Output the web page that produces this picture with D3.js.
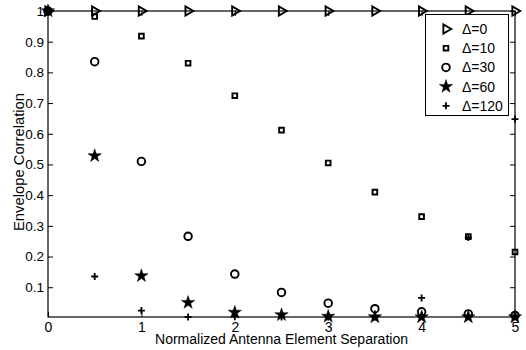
<!DOCTYPE html>
<html>
<head>
<meta charset="utf-8">
<script src="https://cdn.jsdelivr.net/npm/d3@7"></script>
<style>
  body { margin: 0; background: #fff; }
  text { font-family: "Liberation Sans", Arial, sans-serif; fill: #000; }
</style>
</head>
<body>
<div id="chart"></div>
<script>
// antenna separation (wavelengths)
const separation = [0, 0.5, 1, 1.5, 2, 2.5, 3, 3.5, 4, 4.5, 5];

const delta0   = [1, 1, 1, 1, 1, 1, 1, 1, 1, 1, 1];
const delta10  = [1, 0.982, 0.918, 0.830, 0.724, 0.612, 0.505, 0.410, 0.330, 0.265, 0.215];
const delta30  = [1, 0.835, 0.510, 0.266, 0.143, 0.083, 0.048, 0.030, 0.020, 0.013, 0.008];
const delta60  = [1, 0.528, 0.137, 0.050, 0.018, 0.010, 0.005, 0.003, 0.002, 0.001, 0.001];
const delta120 = [1, 0.135, 0.024, 0.002, 0.004, 0.003, 0.002, 0.002, 0.065, 0.262, 0.648];

const legendLabels = ["\u0394=0", "\u0394=10", "\u0394=30", "\u0394=60", "\u0394=120"];
const xTicks = [0, 1, 2, 3, 4, 5];
const yTicks = [0.1, 0.2, 0.3, 0.4, 0.5, 0.6, 0.7, 0.8, 0.9, 1];

const width = 526, height = 350;
const margin = {left: 48, right: 11, top: 11, bottom: 33};

const svg = d3.select("#chart").append("svg")
  .attr("width", width)
  .attr("height", height);

const x = d3.scaleLinear().domain([0, 5])
  .range([margin.left, width - margin.right]);
const y = d3.scaleLinear().domain([0.003, 1])
  .range([height - margin.bottom, margin.top]);

// box with inward ticks
svg.append("rect")
  .attr("x", x(0)).attr("y", y(1))
  .attr("width", x(5) - x(0)).attr("height", y(0.003) - y(1))
  .attr("fill", "none").attr("stroke", "#000").attr("stroke-width", 1.2);

svg.append("g")
  .attr("transform", "translate(0," + y(0.003) + ")")
  .call(d3.axisBottom(x).tickValues(xTicks).tickSizeInner(-5).tickSizeOuter(0).tickPadding(5)
    .tickFormat(d3.format("d")))
  .call(g => g.select(".domain").remove())
  .call(g => g.selectAll("text").style("font-size", "14px"));

svg.append("g")
  .attr("transform", "translate(0," + y(1) + ")")
  .call(d3.axisTop(x).tickValues(xTicks).tickSizeInner(-5).tickSizeOuter(0).tickFormat(""))
  .call(g => g.select(".domain").remove());

svg.append("g")
  .attr("transform", "translate(" + x(0) + ",0)")
  .call(d3.axisLeft(y).tickValues(yTicks).tickSizeInner(-5).tickSizeOuter(0).tickPadding(4)
    .tickFormat(d => d === 1 ? "1" : d3.format(".1f")(d)))
  .call(g => g.select(".domain").remove())
  .call(g => g.selectAll("text").style("font-size", "13.5px"));

svg.append("g")
  .attr("transform", "translate(" + x(5) + ",0)")
  .call(d3.axisRight(y).tickValues(yTicks).tickSizeInner(-5).tickSizeOuter(0).tickFormat(""))
  .call(g => g.select(".domain").remove());

// markers
const shapes = [
  d3.symbol().type(d3.symbolTriangle).size(36),
  d3.symbol().type(d3.symbolSquare).size(22),
  d3.symbol().type(d3.symbolCircle).size(45),
  d3.symbol().type(d3.symbolStar).size(55),
  null
];
const rotate = [90, 0, 0, 0, 0];
const filled = [false, false, false, true, false];

function drawMarker(g, i, cx, cy) {
  if (i === 4) {
    g.append("path")
      .attr("d", "M" + (cx - 3.5) + "," + cy + "h7M" + cx + "," + (cy - 3.5) + "v7")
      .attr("stroke", "#000").attr("stroke-width", 1.8).attr("fill", "none");
    return;
  }
  g.append("path")
    .attr("d", shapes[i]())
    .attr("transform", "translate(" + cx + "," + cy + ") rotate(" + rotate[i] + ")")
    .attr("fill", filled[i] ? "#000" : "none")
    .attr("stroke", "#000")
    .attr("stroke-width", filled[i] ? 0.5 : 1.9);
}

const series = [delta0, delta10, delta30, delta60, delta120];
const marks = svg.append("g");
series.forEach((vals, i) => {
  vals.forEach((v, j) => drawMarker(marks, i, x(separation[j]), y(Math.max(v, 0.003))));
});

// legend
const lg = svg.append("g");
lg.append("rect")
  .attr("x", 425.5).attr("y", 14.5).attr("width", 83).attr("height", 101)
  .attr("fill", "#fff").attr("stroke", "#000");
legendLabels.forEach((t, i) => {
  const ly = 29 + i * 19.2;
  drawMarker(lg, i, 446, ly);
  lg.append("text").attr("x", 462).attr("y", ly + 5)
    .style("font-size", "14px").text(t);
});

// axis titles
svg.append("text")
  .attr("x", (x(0) + x(5)) / 2).attr("y", 344)
  .attr("text-anchor", "middle").style("font-size", "14px")
  .text("Normalized Antenna Element Separation");

svg.append("text")
  .attr("transform", "translate(19," + 162 + ") rotate(-90)")
  .attr("text-anchor", "middle").attr("dy", "0.35em").style("font-size", "14px")
  .attr("textLength", 138).attr("lengthAdjust", "spacingAndGlyphs")
  .text("Envelope Correlation");
</script>
</body>
</html>
